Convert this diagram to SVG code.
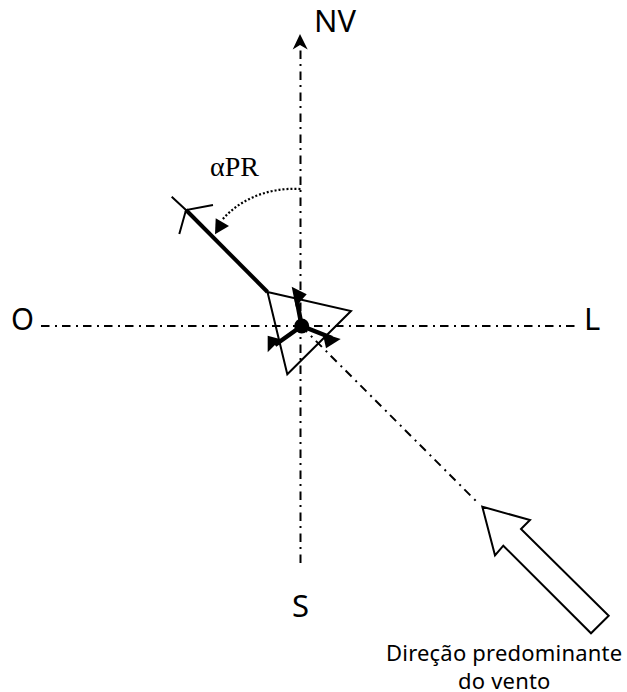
<svg xmlns="http://www.w3.org/2000/svg" width="627" height="692" viewBox="0 0 627 692">
<style>
.axis{fill:none;stroke:#000;stroke-width:2;stroke-dasharray:8.5 5.5 2 5}
.thin{fill:none;stroke:#000;stroke-width:2}
.thick{fill:none;stroke:#000;stroke-width:4}
.stem{fill:none;stroke:#000;stroke-width:4.5}
.sans{font-family:"Noto Sans",sans-serif;fill:#000}
.big{font-size:31px}
.small{font-size:22px;letter-spacing:.2px}
.serif{font-family:"Liberation Serif",serif;font-size:28px;fill:#000}
</style>
<rect width="627" height="692" fill="#fff"/>
<g id="connectors">
<path class="axis" d="M300.5 563V42"/>
<path d="M300 34L307.7 49.5L300 45L292.7 49.5Z" fill="#000"/>
<path class="axis" d="M41 326H577"/>
<path class="axis" d="M301 326L477 502"/>
<path d="M300.5 189C265 187 237 202 222 220" fill="none" stroke="#000" stroke-width="2.2" stroke-dasharray="2 2"/>
<path d="M215.7 218.3L229 226L215 234.3Z" fill="#000"/>
</g>
<g id="aircraft">
<path class="thick" d="M186 210L267.5 292"/>
<path class="thin" d="M171.7 196.7L186 210M213 205L186 210L179.3 234"/>
<path class="thin" d="M267.5 292L351 311L287.3 374.3Z"/>
<path class="stem" d="M296 296L301.7 326M275 345L301.7 326L332 338"/>
<circle cx="301.7" cy="326" r="7.5" fill="#000"/>
<path d="M291.7 286.7L306.7 294.3L295.7 306.7Z" fill="#000"/>
<path d="M267.7 335.7L267.7 352.3L280.7 339.3Z" fill="#000"/>
<path d="M340.7 339L322.7 333.3L326 348.3Z" fill="#000"/>
</g>
<g id="wind-arrow">
<path class="thin" d="M482.3 506.7L530 520L521 529L608.7 615.7L591 633.3L503.3 545.7L495 555.3Z" fill="#fff"/>
</g>
<g id="labels">
<text class="sans big" x="314" y="32" textLength="42" lengthAdjust="spacingAndGlyphs">NV</text>
<text class="sans big" x="11" y="330" textLength="23" lengthAdjust="spacingAndGlyphs">O</text>
<text class="sans big" x="584" y="330">L</text>
<text class="sans big" x="292" y="617">S</text>
<text class="serif" x="210" y="176">αPR</text>
<text class="sans small" x="386" y="660.5">Direção predominante</text>
<text class="sans small" x="458" y="689">do vento</text>
</g>
</svg>
